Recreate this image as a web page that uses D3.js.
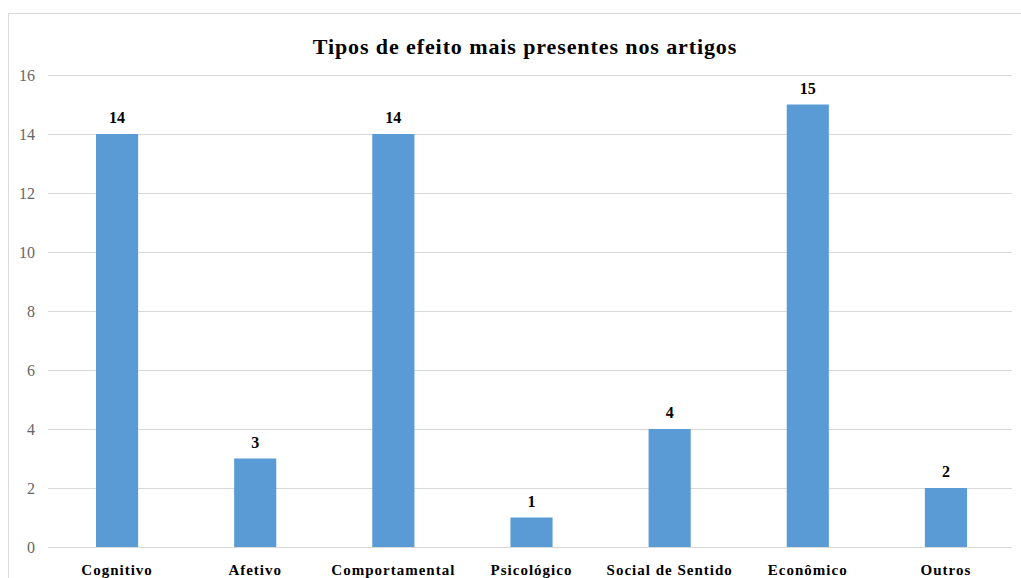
<!DOCTYPE html>
<html>
<head>
<meta charset="utf-8">
<script src="https://cdn.jsdelivr.net/npm/d3@7"></script>
<style>
  body { margin: 0; background: #fff; }
  svg { display: block; }
</style>
</head>
<body>
<div class="bar-chart"></div>
<script>
const categories = ["Cognitivo", "Afetivo", "Comportamental", "Psicológico", "Social de Sentido", "Econômico", "Outros"];
const values = [14, 3, 14, 1, 4, 15, 2];
const yTicks = [0, 2, 4, 6, 8, 10, 12, 14, 16];
const title = "Tipos de efeito mais presentes nos artigos";

const width = 1021, height = 578;
const serif = "'Liberation Serif', 'Times New Roman', serif";

const svg = d3.select(".bar-chart")
  .append("svg")
  .attr("width", width)
  .attr("height", height);

// chart frame
svg.append("rect")
  .attr("x", 8.5).attr("y", 13.5)
  .attr("width", 1030).attr("height", 600)
  .attr("fill", "none")
  .attr("stroke", "#d9d9d9");

const x = d3.scaleBand()
  .domain(categories)
  .range([48, 1015])
  .paddingInner(0.695)
  .paddingOuter(0.3475);

const y = d3.scaleLinear()
  .domain([0, 16])
  .range([547, 75]);

// gridlines
svg.append("g")
  .attr("class", "grid")
  .selectAll("line")
  .data(yTicks)
  .join("line")
  .attr("x1", 48).attr("x2", 1012)
  .attr("y1", d => Math.round(y(d)) + 0.5)
  .attr("y2", d => Math.round(y(d)) + 0.5)
  .attr("stroke", "#d9d9d9");

// y axis labels
const yAxis = d3.axisLeft(y).tickValues(yTicks).tickSize(0).tickPadding(0);
svg.append("g")
  .attr("transform", "translate(35,0)")
  .call(yAxis)
  .attr("font-family", serif)
  .attr("font-size", 16)
  .call(g => g.select(".domain").remove())
  .call(g => g.selectAll("text").attr("fill", "#666666"));

// bars
svg.append("g")
  .selectAll("rect")
  .data(values)
  .join("rect")
  .attr("x", (d, i) => x(categories[i]))
  .attr("y", d => y(d))
  .attr("width", x.bandwidth())
  .attr("height", d => y(0) - y(d))
  .attr("fill", "#5b9bd5");

// value labels
svg.append("g")
  .selectAll("text")
  .data(values)
  .join("text")
  .attr("x", (d, i) => x(categories[i]) + x.bandwidth() / 2)
  .attr("y", d => y(d) - 11)
  .attr("text-anchor", "middle")
  .attr("font-family", serif)
  .attr("font-weight", "bold")
  .attr("font-size", 16)
  .attr("fill", "#000")
  .text(d => d);

// category labels
svg.append("g")
  .selectAll("text")
  .data(categories)
  .join("text")
  .attr("x", d => x(d) + x.bandwidth() / 2)
  .attr("y", 575)
  .attr("text-anchor", "middle")
  .attr("font-family", serif)
  .attr("font-weight", "bold")
  .attr("font-size", 15)
  .attr("letter-spacing", "1px")
  .attr("fill", "#000")
  .text(d => d);

// title
svg.append("text")
  .attr("x", 525)
  .attr("y", 54)
  .attr("text-anchor", "middle")
  .attr("font-family", serif)
  .attr("font-weight", "bold")
  .attr("font-size", 22)
  .attr("letter-spacing", "0.9px")
  .attr("fill", "#000")
  .text(title);
</script>
</body>
</html>
